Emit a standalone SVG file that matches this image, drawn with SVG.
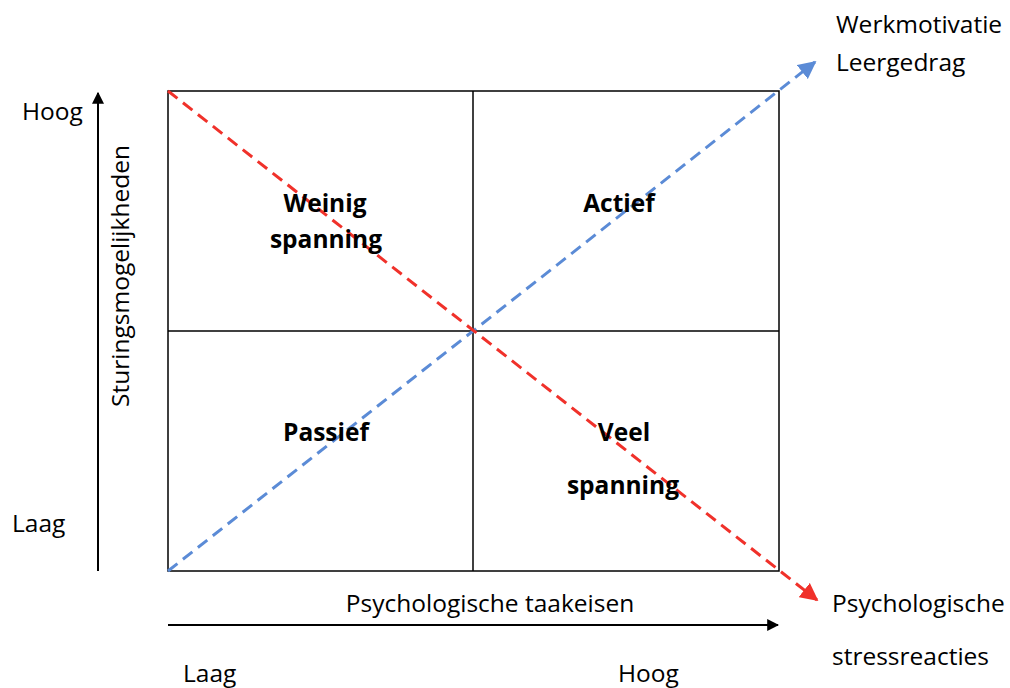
<svg xmlns="http://www.w3.org/2000/svg" width="1010" height="688" viewBox="0 0 1010 688">
<defs>
<style>
.t{font-family:"Open Sans","Liberation Sans",sans-serif;font-size:24.5px;fill:#000}
.b{font-family:"Open Sans","Liberation Sans",sans-serif;font-size:24.5px;font-weight:bold;fill:#000;text-anchor:middle}
.grid{fill:none;stroke:#000;stroke-width:1.5}
.axis{stroke:#000;stroke-width:2;fill:none}
.blue{stroke:#5b8bd6;stroke-width:3;stroke-dasharray:12,7;fill:none}
.red{stroke:#f0312a;stroke-width:3;stroke-dasharray:12,7;fill:none}
</style>
<marker id="ab" viewBox="0 0 10 10" refX="9" refY="5" markerWidth="12" markerHeight="12" markerUnits="userSpaceOnUse" orient="auto"><path d="M0,0 L10,5 L0,10 z" fill="#000"/></marker>
<marker id="mb" viewBox="0 0 10 10" refX="9" refY="5" markerWidth="18" markerHeight="18" markerUnits="userSpaceOnUse" orient="auto"><path d="M0,0 L10,5 L0,10 z" fill="#5b8bd6"/></marker>
<marker id="mr" viewBox="0 0 10 10" refX="9" refY="5" markerWidth="18" markerHeight="18" markerUnits="userSpaceOnUse" orient="auto"><path d="M0,0 L10,5 L0,10 z" fill="#f0312a"/></marker>
</defs>
<rect width="1010" height="688" fill="#fff"/>
<g id="grid">
<rect class="grid" x="168" y="91" width="611" height="480"/>
<line class="grid" x1="473" y1="91" x2="473" y2="571"/>
<line class="grid" x1="168" y1="331" x2="779" y2="331"/>
</g>
<g id="connectors">
<line class="axis" x1="98" y1="571" x2="98" y2="93" marker-end="url(#ab)"/>
<line class="axis" x1="168" y1="625" x2="778" y2="625" marker-end="url(#ab)"/>
<line class="blue" x1="168" y1="571" x2="815" y2="62" marker-end="url(#mb)"/>
<line class="red" x1="168" y1="91" x2="817" y2="600" marker-end="url(#mr)"/>
</g>
<g id="labels">
<text class="t" x="836" y="33">Werkmotivatie</text>
<text class="t" x="836" y="71">Leergedrag</text>
<text class="t" x="22" y="120">Hoog</text>
<text class="t" x="12" y="532">Laag</text>
<text class="t" transform="translate(129,276) rotate(-90)" text-anchor="middle">Sturingsmogelijkheden</text>
<text class="t" x="490" y="612" text-anchor="middle">Psychologische taakeisen</text>
<text class="t" x="183" y="682">Laag</text>
<text class="t" x="618" y="682">Hoog</text>
<text class="t" x="832" y="612">Psychologische</text>
<text class="t" x="832" y="665">stressreacties</text>
</g>
<g id="weinig"><text class="b" x="325" y="212">Weinig</text><text class="b" x="326" y="248">spanning</text></g>
<g id="actief"><text class="b" x="619" y="212">Actief</text></g>
<g id="passief"><text class="b" x="326" y="441">Passief</text></g>
<g id="veel"><text class="b" x="624" y="441">Veel</text><text class="b" x="623" y="494">spanning</text></g>
</svg>
